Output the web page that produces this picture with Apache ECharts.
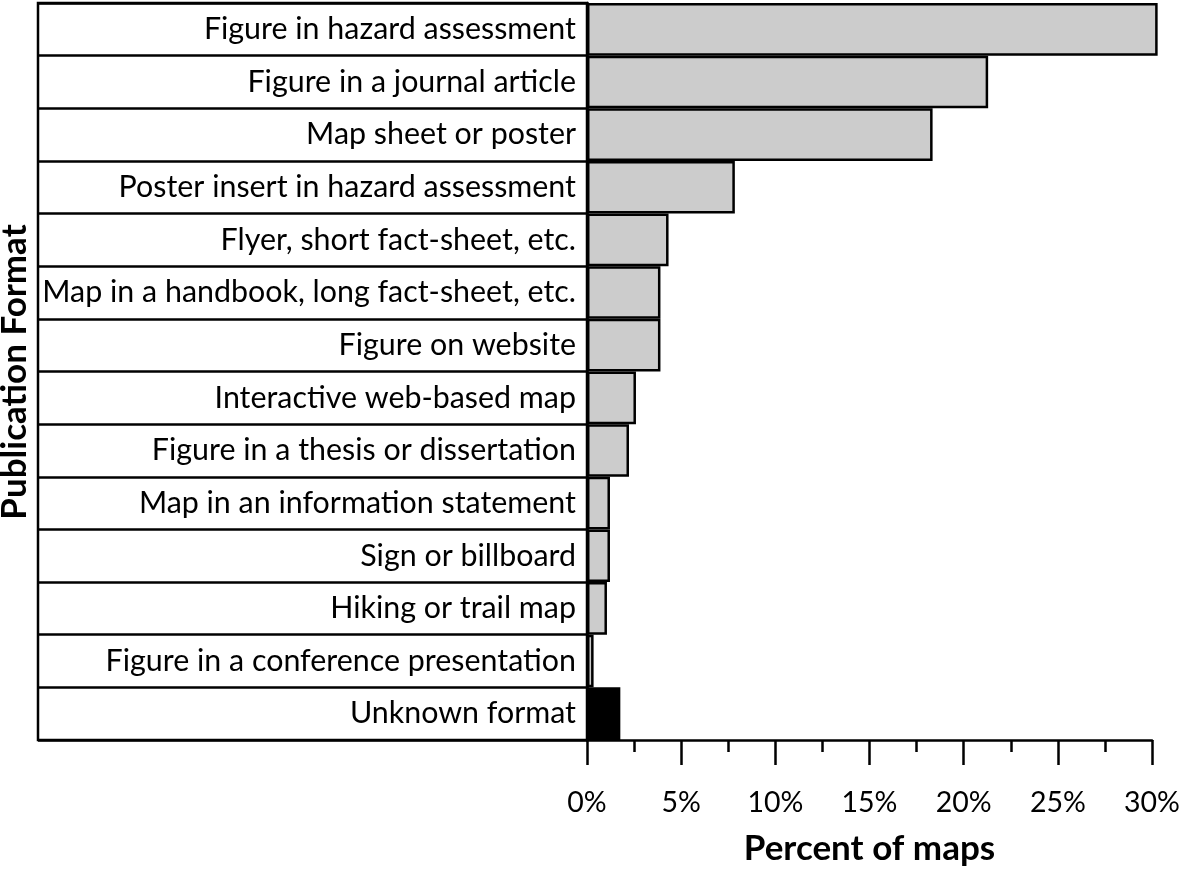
<!DOCTYPE html>
<html>
<head>
<meta charset="utf-8">
<script src="https://cdn.jsdelivr.net/npm/echarts@6/dist/echarts.min.js"></script>
<style>html,body{margin:0;padding:0;background:#fff}#c{width:1180px;height:870px}</style>
</head>
<body>
<div id="c"></div>
<script>
var categories = [
  "Figure in hazard assessment",
  "Figure in a journal article",
  "Map sheet or poster",
  "Poster insert in hazard assessment",
  "Flyer, short fact-sheet, etc.",
  "Map in a handbook, long fact-sheet, etc.",
  "Figure on website",
  "Interactive web-based map",
  "Figure in a thesis or dissertation",
  "Map in an information statement",
  "Sign or billboard",
  "Hiking or trail map",
  "Figure in a conference presentation",
  "Unknown format"
];
var percents = [30.3, 21.3, 18.35, 7.85, 4.33, 3.9, 3.9, 2.6, 2.23, 1.22, 1.22, 1.06, 0.35, 1.77];
var highlighted = "Unknown format";
var xTicks = [0, 5, 10, 15, 20, 25, 30];

var FONT = 'Lato, "Noto Sans", sans-serif';
var chart = echarts.init(document.getElementById('c'), null, {renderer: 'canvas'});
var option = {
  animation: false,
  backgroundColor: '#fff',
  grid: [
    {left: 38, top: 3, width: 549, height: 737, outerBoundsMode: 'none', containLabel: false,
     show: true, borderColor: '#000', borderWidth: 2.5, backgroundColor: '#fff'},
    {left: 587, width: 565, top: 3, height: 737, outerBoundsMode: 'none', containLabel: false}
  ],
  xAxis: [
    {gridIndex: 0, type: 'value', min: 0, max: 1, show: false},
    {gridIndex: 1, type: 'value', min: xTicks[0], max: xTicks[xTicks.length - 1], interval: 5,
     axisLine: {show: true, lineStyle: {color: '#000', width: 2.5}},
     axisTick: {show: true, length: 25, lineStyle: {color: '#000', width: 2.5}},
     minorTick: {show: true, splitNumber: 2, length: 12, lineStyle: {color: '#000', width: 2.5}},
     splitLine: {show: false},
     axisLabel: {margin: 48, fontFamily: FONT, fontSize: 28.5, color: '#000', formatter: '{value}%'},
     name: 'Percent of maps', nameLocation: 'middle', nameGap: 91,
     nameTextStyle: {fontFamily: FONT, fontWeight: 'bold', fontSize: 35, color: '#000'}
    }
  ],
  yAxis: [
    {gridIndex: 0, type: 'category', data: categories, inverse: true, position: 'right',
     axisLine: {show: false}, axisTick: {show: false},
     splitLine: {show: true, lineStyle: {color: '#000', width: 2.5}},
     axisLabel: {inside: true, margin: 11, fontFamily: FONT, fontSize: 30.4, color: '#000'}
    },
    {gridIndex: 1, type: 'category', data: categories, inverse: true,
     axisLine: {show: true, lineStyle: {color: '#000', width: 2.5}},
     axisTick: {show: false}, axisLabel: {show: false}, splitLine: {show: false}
    }
  ],
  series: [{
    type: 'bar', xAxisIndex: 1, yAxisIndex: 1, clip: false,
    barWidth: '100%', barCategoryGap: 0,
    itemStyle: {color: '#cccccc', borderColor: '#000', borderWidth: 2.5},
    data: percents.map(function (v, i) {
      return categories[i] === highlighted ? {value: v, itemStyle: {color: '#000'}} : v;
    })
  }],
  graphic: [{
    type: 'text', x: 15, y: 372, rotation: Math.PI / 2,
    style: {text: 'Publication Format', fontFamily: FONT, fontWeight: 'bold', fontSize: 35,
            fill: '#000', align: 'center', verticalAlign: 'middle'}
  }]
};
chart.setOption(option);
</script>
</body>
</html>
